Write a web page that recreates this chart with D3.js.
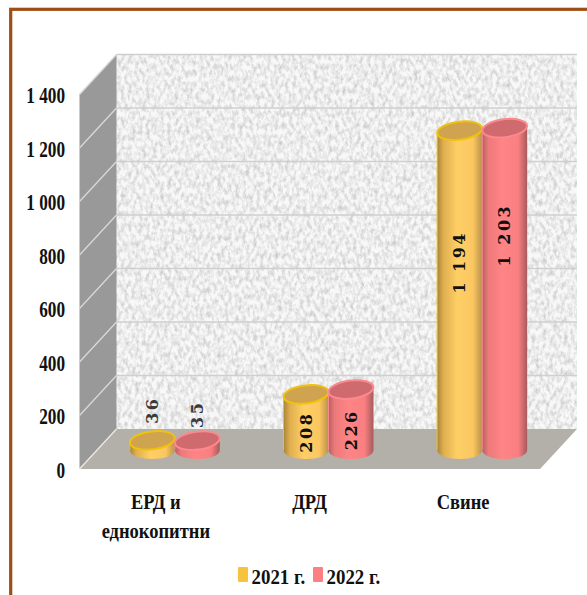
<!DOCTYPE html>
<html>
<head>
<meta charset="utf-8">
<script src="https://cdnjs.cloudflare.com/ajax/libs/d3/7.8.5/d3.min.js"></script>
<style>
  html, body { margin: 0; padding: 0; background: #fff; }
  text { font-family: "Liberation Serif", serif; font-weight: bold; fill: #111; }
</style>
</head>
<body>
<div id="chart"></div>
<script>
const categories = [['ЕРД и', 'еднокопитни'], ['ДРД'], ['Свине']];
const seriesNames = ['2021 г.', '2022 г.'];
const values2021 = [36, 208, 1194];
const values2022 = [35, 226, 1203];
const valueLabels2021 = ['36', '208', '1 194'];
const valueLabels2022 = ['35', '226', '1 203'];
const yTicks = [0, 200, 400, 600, 800, 1000, 1200, 1400];
const yTickLabels = ['0', '200', '400', '600', '800', '1 000', '1 200', '1 400'];

const width = 587, height = 595;
const depthX = 37, depthY = -40;
const rx = 22.5, ry = 9;

// Labels were placed by hand in the original: shift from the middle of each bar
const labelShift2021 = [-35, 10, -28];
const labelShift2022 = [-31, 10, -54];

const svg = d3.select('#chart').append('svg')
  .attr('width', width)
  .attr('height', height)
  .style('display', 'block');

const defs = svg.append('defs');

// Speckled wall texture
const noise = defs.append('filter').attr('id', 'wall-noise')
  .attr('x', 0).attr('y', 0).attr('width', 1).attr('height', 1);
noise.append('feTurbulence')
  .attr('type', 'fractalNoise')
  .attr('baseFrequency', '0.28 0.17')
  .attr('numOctaves', 3)
  .attr('seed', 7);
noise.append('feColorMatrix')
  .attr('type', 'matrix')
  .attr('values', '0 0 0 0 0.55  0 0 0 0 0.55  0 0 0 0 0.55  1.8 0 0 0 -0.68');
noise.append('feGaussianBlur').attr('stdDeviation', 0.7);

function cylinderGradient(id, stops) {
  const g = defs.append('linearGradient').attr('id', id)
    .attr('x1', 0).attr('x2', 1).attr('y1', 0).attr('y2', 0);
  stops.forEach(s => g.append('stop').attr('offset', s[0]).attr('stop-color', s[1]));
}
cylinderGradient('body-2021', [[0, '#a98537'], [0.14, '#dfae4f'], [0.45, '#ffcf66'], [0.8, '#fbc660'], [1, '#b8924a']]);
cylinderGradient('body-2022', [[0, '#b85f60'], [0.14, '#ed7a7b'], [0.45, '#ff8486'], [0.8, '#f97f81'], [1, '#a85a5c']]);

// Frame
svg.append('rect').attr('x', 10.7).attr('y', 9.3).attr('width', 590).attr('height', 600)
  .attr('fill', '#fff').attr('stroke', '#9c4f14').attr('stroke-width', 3.2);

// Scales
const yScale = d3.scaleLinear().domain([0, 1400]).range([469, 94.5]);
const xScale = d3.scaleBand().domain(d3.range(categories.length)).range([98, 559]);
const x0 = 79.5, x1 = 540;

// Back wall
svg.append('rect').attr('x', x0 + depthX).attr('y', yScale(1400) + depthY)
  .attr('width', x1 - x0).attr('height', yScale(0) - yScale(1400))
  .attr('fill', '#f8f8f8');
svg.append('rect').attr('x', x0 + depthX).attr('y', yScale(1400) + depthY)
  .attr('width', x1 - x0).attr('height', yScale(0) - yScale(1400))
  .attr('filter', 'url(#wall-noise)').attr('fill', '#fff');

// Side wall
svg.append('path')
  .attr('d', d3.line()([
    [x0, yScale(1400)], [x0 + depthX, yScale(1400) + depthY],
    [x0 + depthX, yScale(0) + depthY], [x0, yScale(0)]
  ]) + 'Z')
  .attr('fill', '#999999');

// Floor
svg.append('path')
  .attr('d', d3.line()([
    [x0, yScale(0)], [x0 + depthX, yScale(0) + depthY],
    [x1 + depthX, yScale(0) + depthY], [x1, yScale(0)]
  ]) + 'Z')
  .attr('fill', '#b3b0aa');

// Gridlines
yTicks.forEach(t => {
  const y = yScale(t);
  if (t > 0) {
    svg.append('line')
      .attr('x1', x0 + depthX).attr('x2', x1 + depthX)
      .attr('y1', y + depthY).attr('y2', y + depthY)
      .attr('stroke', '#cfcfcf').attr('stroke-width', 1.3);
  }
  svg.append('line')
    .attr('x1', x0).attr('x2', x0 + depthX)
    .attr('y1', y).attr('y2', y + depthY)
    .attr('stroke', t > 0 ? '#d9d9d9' : '#efe9e0').attr('stroke-width', 1.3);
});

// Y axis
const yAxis = d3.axisLeft(yScale)
  .tickValues(yTicks)
  .tickSize(0)
  .tickPadding(15)
  .tickFormat((d, i) => yTickLabels[i]);
const axisG = svg.append('g').attr('transform', `translate(${x0},0)`).call(yAxis);
axisG.select('.domain').remove();
axisG.selectAll('text')
  .style('font-family', '"Liberation Serif", serif')
  .style('font-weight', 'bold')
  .style('font-size', '23px')
  .attr('text-anchor', 'end')
  .attr('x', 0)
  .attr('transform', 'translate(-14.5,1) scale(0.75,1)');

// Cylinders
const baseY = yScale(0) - 19;
const tilt = -7;

function drawCylinder(g, cx, value, fill, topFill, stroke) {
  const topY = baseY - (yScale(0) - yScale(value));
  const path = d3.path();
  path.moveTo(cx - rx, topY);
  path.lineTo(cx - rx, baseY);
  path.bezierCurveTo(cx - rx, baseY + ry * 1.33, cx + rx, baseY + ry * 1.33, cx + rx, baseY);
  path.lineTo(cx + rx, topY);
  path.closePath();
  g.append('path').attr('d', path.toString()).attr('fill', fill);
  g.append('path')
    .attr('d', `M${cx - rx},${topY}L${cx - rx},${baseY}`)
    .attr('stroke', stroke).attr('stroke-width', 1).attr('fill', 'none');
  g.append('ellipse')
    .attr('cx', cx).attr('cy', topY)
    .attr('rx', rx).attr('ry', ry)
    .attr('transform', `rotate(${tilt},${cx},${topY})`)
    .attr('fill', topFill).attr('stroke', stroke).attr('stroke-width', 2);
}

function drawLabel(cx, value, label, shift) {
  const topY = baseY - (yScale(0) - yScale(value));
  const y = (topY + baseY) / 2 + shift;
  svg.append('text')
    .attr('transform', `translate(${cx + 5.5},${y}) rotate(-90)`)
    .attr('text-anchor', 'middle')
    .style('font-family', '"DejaVu Serif", serif')
    .style('font-size', '16px')
    .style('letter-spacing', '2.5px')
    .style('fill', value < 100 ? '#3a3a3a' : '#111')
    .text(label);
}

const bars = svg.append('g');
categories.forEach((c, i) => {
  const cx = xScale(i) + xScale.bandwidth() / 2;
  drawCylinder(bars, cx - rx, values2021[i], 'url(#body-2021)', '#cfa34f', '#efc20c');
  drawCylinder(bars, cx + rx, values2022[i], 'url(#body-2022)', '#cf6a6e', '#fb8a8e');
  drawLabel(cx - rx, values2021[i], valueLabels2021[i], labelShift2021[i]);
  drawLabel(cx + rx, values2022[i], valueLabels2022[i], labelShift2022[i]);
});

// Category labels
categories.forEach((lines, i) => {
  const cx = xScale(i) + xScale.bandwidth() / 2 - 19;
  lines.forEach((line, j) => {
    svg.append('text')
      .attr('transform', `translate(${cx},${509 + j * 29}) scale(0.84,1)`)
      .attr('text-anchor', 'middle')
      .style('font-size', '22px')
      .text(line);
  });
});

// Legend
const legendX = [238, 313];
const legendFill = ['#f7c33e', '#fb7f83'];
seriesNames.forEach((name, i) => {
  svg.append('rect')
    .attr('x', legendX[i]).attr('y', 567)
    .attr('width', 10).attr('height', 15)
    .attr('rx', 1)
    .attr('fill', legendFill[i]);
  svg.append('text')
    .attr('transform', `translate(${legendX[i] + 13.5},584) scale(0.86,1)`)
    .style('font-size', '22px')
    .text(name);
});
</script>
</body>
</html>
